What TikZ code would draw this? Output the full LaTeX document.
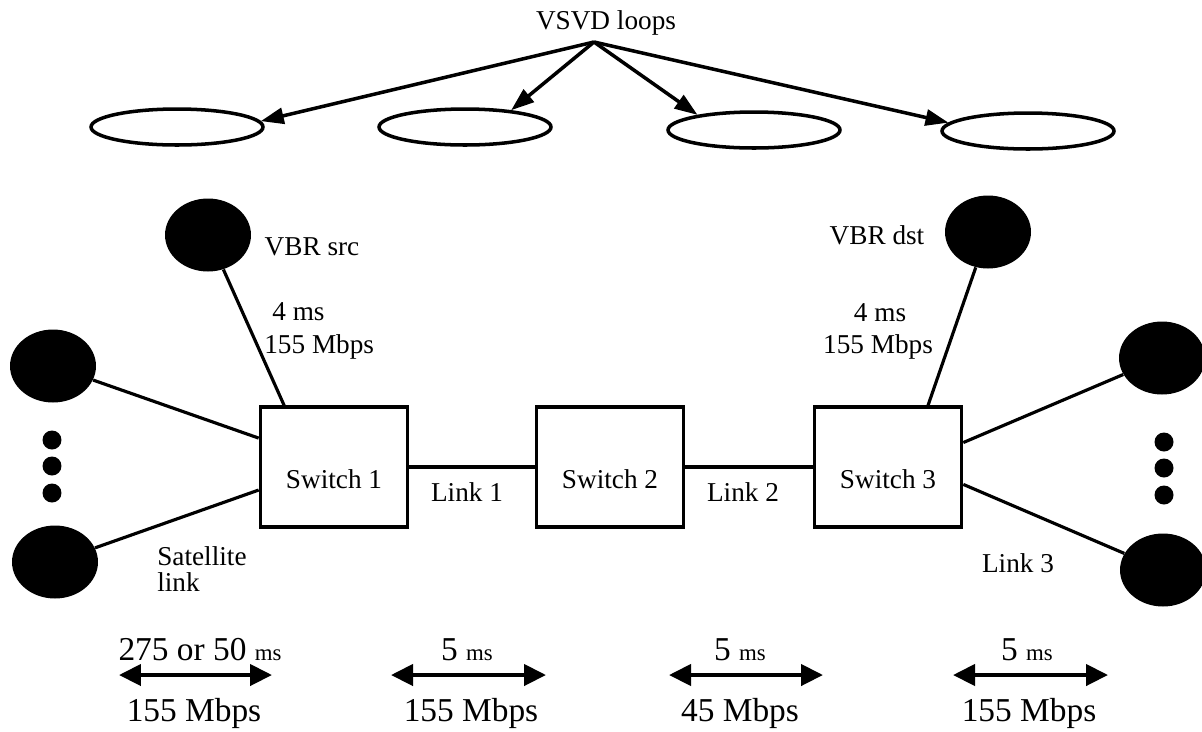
\documentclass[tikz,border=0pt]{standalone}
\usepackage{fontspec}
\setmainfont{Liberation Serif}
\usetikzlibrary{arrows.meta,shapes.geometric}

\begin{document}
\begin{tikzpicture}[x=0.02cm,y=-0.02cm]
\tikzstyle{vsvd} = [ellipse, draw, line width=2pt, minimum width=3.44cm, minimum height=0.72cm]
\tikzstyle{host} = [ellipse, fill=black, minimum width=1.72cm, minimum height=1.46cm, inner sep=0pt]
\tikzstyle{switchbox} = [rectangle, draw, line width=1.8pt, minimum width=2.95cm, minimum height=2.4cm, text height=0.86cm, text depth=0pt, font=\fontsize{15.5}{18}\selectfont]
\tikzstyle{txt} = [font=\fontsize{15.5}{15}\selectfont, inner sep=0pt]
\tikzstyle{bigtxt} = [font=\fontsize{19}{22}\selectfont, inner sep=0pt]
\tikzstyle{link} = [line width=1.8pt]
\tikzstyle{arrow} = [line width=2pt, -{Triangle[length=0.46cm,width=0.32cm]}]
\tikzstyle{span} = [line width=2.4pt, {Triangle[length=0.44cm,width=0.42cm]}-{Triangle[length=0.44cm,width=0.42cm]}]

\useasboundingbox (0,0) rectangle (1202,731);

% VSVD loops
\node (vsvdtxt) [txt] at (606,23) {VSVD loops};
\coordinate (apex) at (594,42);
\node (l1) [vsvd] at (177,127) {};
\node (l2) [vsvd] at (465,127) {};
\node (l3) [vsvd] at (754,130) {};
\node (l4) [vsvd] at (1028,131) {};
\draw [arrow] (apex) -- (l1.4);
\draw [arrow] (apex) -- (l2.20);
\draw [arrow] (apex) -- (l3.165);
\draw [arrow] (apex) -- (l4.174);

% switches
\node (sw1) [switchbox] at (334,467) {Switch 1};
\node (sw2) [switchbox] at (610,467) {Switch 2};
\node (sw3) [switchbox] at (888,467) {Switch 3};

% hosts
\node (src) [host] at (208,235) {};
\node (dst) [host] at (988,232) {};
\node (h1) [host] at (53,366) {};
\node (h2) [host] at (55,562) {};
\node (h3) [host] at (1162,358) {};
\node (h4) [host] at (1163,570) {};
\foreach \y in {440,466,493} \fill (52,\y) circle (0.19cm);
\foreach \y in {442,468,495} \fill (1164,\y) circle (0.19cm);

\draw [link] (src) -- (sw1.129);
\draw [link] (h1) -- (sw1.159);
\draw [link] (h2) -- (sw1.197);
\draw [link] (sw1) -- (sw2);
\draw [link] (sw2) -- (sw3);
\draw [link] (dst) -- (sw3.57);
\draw [link] (h3) -- (sw3.18);
\draw [link] (h4) -- (sw3.-13);

% labels
\node (srctxt) [txt] at (312,247) {VBR src};
\node (srcms) [txt, anchor=west] at (272,312) {4 ms};
\node (srcbw) [txt, anchor=west] at (264,347) {155 Mbps};
\node (dsttxt) [txt] at (877,235) {VBR dst};
\node (dstms) [txt] at (880,313) {4 ms};
\node (dstbw) [txt] at (878,347) {155 Mbps};
\node (sat) [txt, anchor=north west, align=left] at (157,546) {Satellite\\link};
\node (link1) [txt] at (467,492) {Link 1};
\node (link2) [txt] at (743,492) {Link 2};
\node (link3) [txt] at (1018,563) {Link 3};

% delays and rates
\node (d1) [bigtxt] at (200,650) {275 or 50 {\fontsize{13}{15}\selectfont ms}};
\node (d2) [bigtxt] at (467,650) {5 {\fontsize{13}{15}\selectfont ms}};
\node (d3) [bigtxt] at (740,650) {5 {\fontsize{13}{15}\selectfont ms}};
\node (d4) [bigtxt] at (1027,650) {5 {\fontsize{13}{15}\selectfont ms}};
\coordinate (a1) at (119,675); \coordinate (b1) at (272,675);
\coordinate (a2) at (391,675); \coordinate (b2) at (546,675);
\coordinate (a3) at (669,675); \coordinate (b3) at (823,675);
\coordinate (a4) at (953,675); \coordinate (b4) at (1108,675);
\draw [span] (a1) -- (b1);
\draw [span] (a2) -- (b2);
\draw [span] (a3) -- (b3);
\draw [span] (a4) -- (b4);
\node (r1) [bigtxt] at (194,713) {155 Mbps};
\node (r2) [bigtxt] at (471,713) {155 Mbps};
\node (r3) [bigtxt] at (740,713) {45 Mbps};
\node (r4) [bigtxt] at (1029,713) {155 Mbps};

\end{tikzpicture}
\end{document}
